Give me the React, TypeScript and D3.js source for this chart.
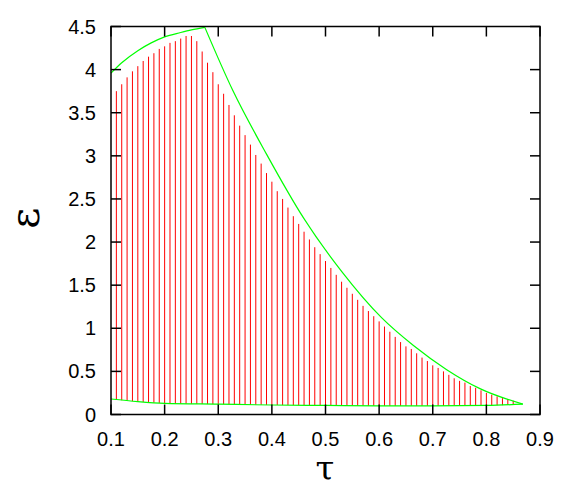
import React from "react";
import * as d3 from "d3";

// ---- data ----
const xTicks = [0.1, 0.2, 0.3, 0.4, 0.5, 0.6, 0.7, 0.8, 0.9];
const yTicks = [0, 0.5, 1, 1.5, 2, 2.5, 3, 3.5, 4, 4.5];

// impulse positions (tau grid 0.11 .. 0.85)
const impulseTau = d3.range(11, 86).map((i) => i / 100);

// impulse tops (epsilon)
const impulseTop = [
  3.75, 3.83, 3.91, 3.98, 4.04, 4.1, 4.15, 4.19, 4.24, 4.27,
  4.31, 4.33, 4.36, 4.39, 4.39, 4.33, 4.21, 4.08, 3.97, 3.83,
  3.72, 3.59, 3.47, 3.35, 3.24, 3.13, 3.01, 2.91, 2.8, 2.7,
  2.59, 2.5, 2.4, 2.3, 2.21, 2.12, 2.03, 1.94, 1.86, 1.78,
  1.7, 1.62, 1.54, 1.47, 1.4, 1.33, 1.26, 1.2, 1.14, 1.08,
  1.02, 0.96, 0.9, 0.84, 0.79, 0.76, 0.71, 0.66, 0.62, 0.57,
  0.54, 0.5, 0.46, 0.42, 0.39, 0.37, 0.33, 0.31, 0.28, 0.25,
  0.23, 0.21, 0.19, 0.18, 0.16,
];

// impulse bottoms (on the lower boundary)
const impulseLow = [
  0.17, 0.165, 0.16, 0.155, 0.15, 0.145, 0.14, 0.137, 0.134, 0.13,
  0.128, 0.127, 0.126, 0.125, 0.124, 0.123, 0.122, 0.121, 0.12, 0.12,
  0.119, 0.118, 0.117, 0.116, 0.115, 0.114, 0.113, 0.112, 0.111, 0.11,
  0.11, 0.109, 0.109, 0.108, 0.108, 0.107, 0.107, 0.106, 0.106, 0.105,
  0.105, 0.104, 0.104, 0.103, 0.103, 0.102, 0.102, 0.101, 0.101, 0.1,
  0.1, 0.1, 0.1, 0.1, 0.1, 0.1, 0.1, 0.1, 0.1, 0.1,
  0.1, 0.1, 0.1, 0.101, 0.101, 0.102, 0.102, 0.103, 0.104, 0.105,
  0.106, 0.107, 0.108, 0.11, 0.112,
];

// upper boundary, rising branch
const upperRiseTau = [0.1, 0.12, 0.15, 0.175, 0.2, 0.23, 0.25, 0.275];
const upperRiseEps = [3.96, 4.08, 4.22, 4.31, 4.38, 4.43, 4.46, 4.49];

// upper boundary, falling branch
const upperFallTau = [0.275, 0.327, 0.39, 0.459, 0.53, 0.605, 0.664, 0.726, 0.788, 0.868];
const upperFallEps = [4.49, 3.76, 3.02, 2.28, 1.66, 1.12, 0.8, 0.52, 0.3, 0.12];

// lower boundary
const lowerTau = [0.1, 0.15, 0.2, 0.3, 0.4, 0.5, 0.6, 0.7, 0.8, 0.868];
const lowerEps = [0.18, 0.15, 0.13, 0.12, 0.11, 0.105, 0.1, 0.1, 0.105, 0.12];

const W = 581;
const H = 488;
const left = 111;
const right = 540;
const top = 26.5;
const bottom = 414.5;

export default function App() {
  const x = d3.scaleLinear().domain([0.1, 0.9]).range([left, right]);
  const y = d3.scaleLinear().domain([0, 4.5]).range([bottom, top]);

  const line = d3
    .line<[number, number]>()
    .x((d) => x(d[0]))
    .y((d) => y(d[1]))
    .curve(d3.curveMonotoneX);

  const rise = line(upperRiseTau.map((t, i) => [t, upperRiseEps[i]]) as [number, number][]) || "";
  const fall = line(upperFallTau.map((t, i) => [t, upperFallEps[i]]) as [number, number][]) || "";
  const low = line(lowerTau.map((t, i) => [t, lowerEps[i]]) as [number, number][]) || "";

  const tickLen = 10;
  const font = "'Liberation Sans', Arial, sans-serif";

  return (
    <svg
      width={W}
      height={H}
      style={{ position: "absolute", left: 0, top: 0, background: "#fff" }}
    >
      <rect x={0} y={0} width={W} height={H} fill="#fff" />
      {/* impulses */}
      <g stroke="#ff0000" strokeWidth={1}>
        {impulseTau.map((t, i) => (
          <line key={i} x1={x(t)} x2={x(t)} y1={y(impulseLow[i])} y2={y(impulseTop[i])} />
        ))}
      </g>
      {/* boundaries */}
      <g fill="none" stroke="#00ff00" strokeWidth={1.2}>
        <path d={rise} />
        <path d={fall} />
        <path d={low} />
      </g>
      {/* frame */}
      <rect x={left} y={top} width={right - left} height={bottom - top} fill="none" stroke="#000" strokeWidth={1.5} />
      {/* ticks */}
      <g stroke="#000" strokeWidth={1.5}>
        {xTicks.map((t, i) => (
          <g key={"xt" + i}>
            <line x1={x(t)} x2={x(t)} y1={bottom} y2={bottom - tickLen} />
            <line x1={x(t)} x2={x(t)} y1={top} y2={top + tickLen} />
          </g>
        ))}
        {yTicks.map((t, i) => (
          <g key={"yt" + i}>
            <line x1={left} x2={left + tickLen} y1={y(t)} y2={y(t)} />
            <line x1={right} x2={right - tickLen} y1={y(t)} y2={y(t)} />
          </g>
        ))}
      </g>
      {/* tick labels */}
      <g fontFamily={font} fontSize={20} fill="#000">
        {xTicks.map((t, i) => (
          <text key={"xl" + i} x={x(t)} y={446} textAnchor="middle">
            {String(t)}
          </text>
        ))}
        {yTicks.map((t, i) => (
          <text key={"yl" + i} x={96} y={y(t) + 7} textAnchor="end">
            {String(t)}
          </text>
        ))}
      </g>
      {/* axis titles */}
      <text
        x={325}
        y={480}
        textAnchor="middle"
        fontFamily="'DejaVu Serif', serif"
        fontSize={34}
        fill="#000"
      >
        τ
      </text>
      <text
        transform="translate(38.5,218) rotate(-90)"
        textAnchor="middle"
        fontFamily="'DejaVu Serif', serif"
        fontSize={41}
        fill="#000"
      >
        ε
      </text>
    </svg>
  );
}
